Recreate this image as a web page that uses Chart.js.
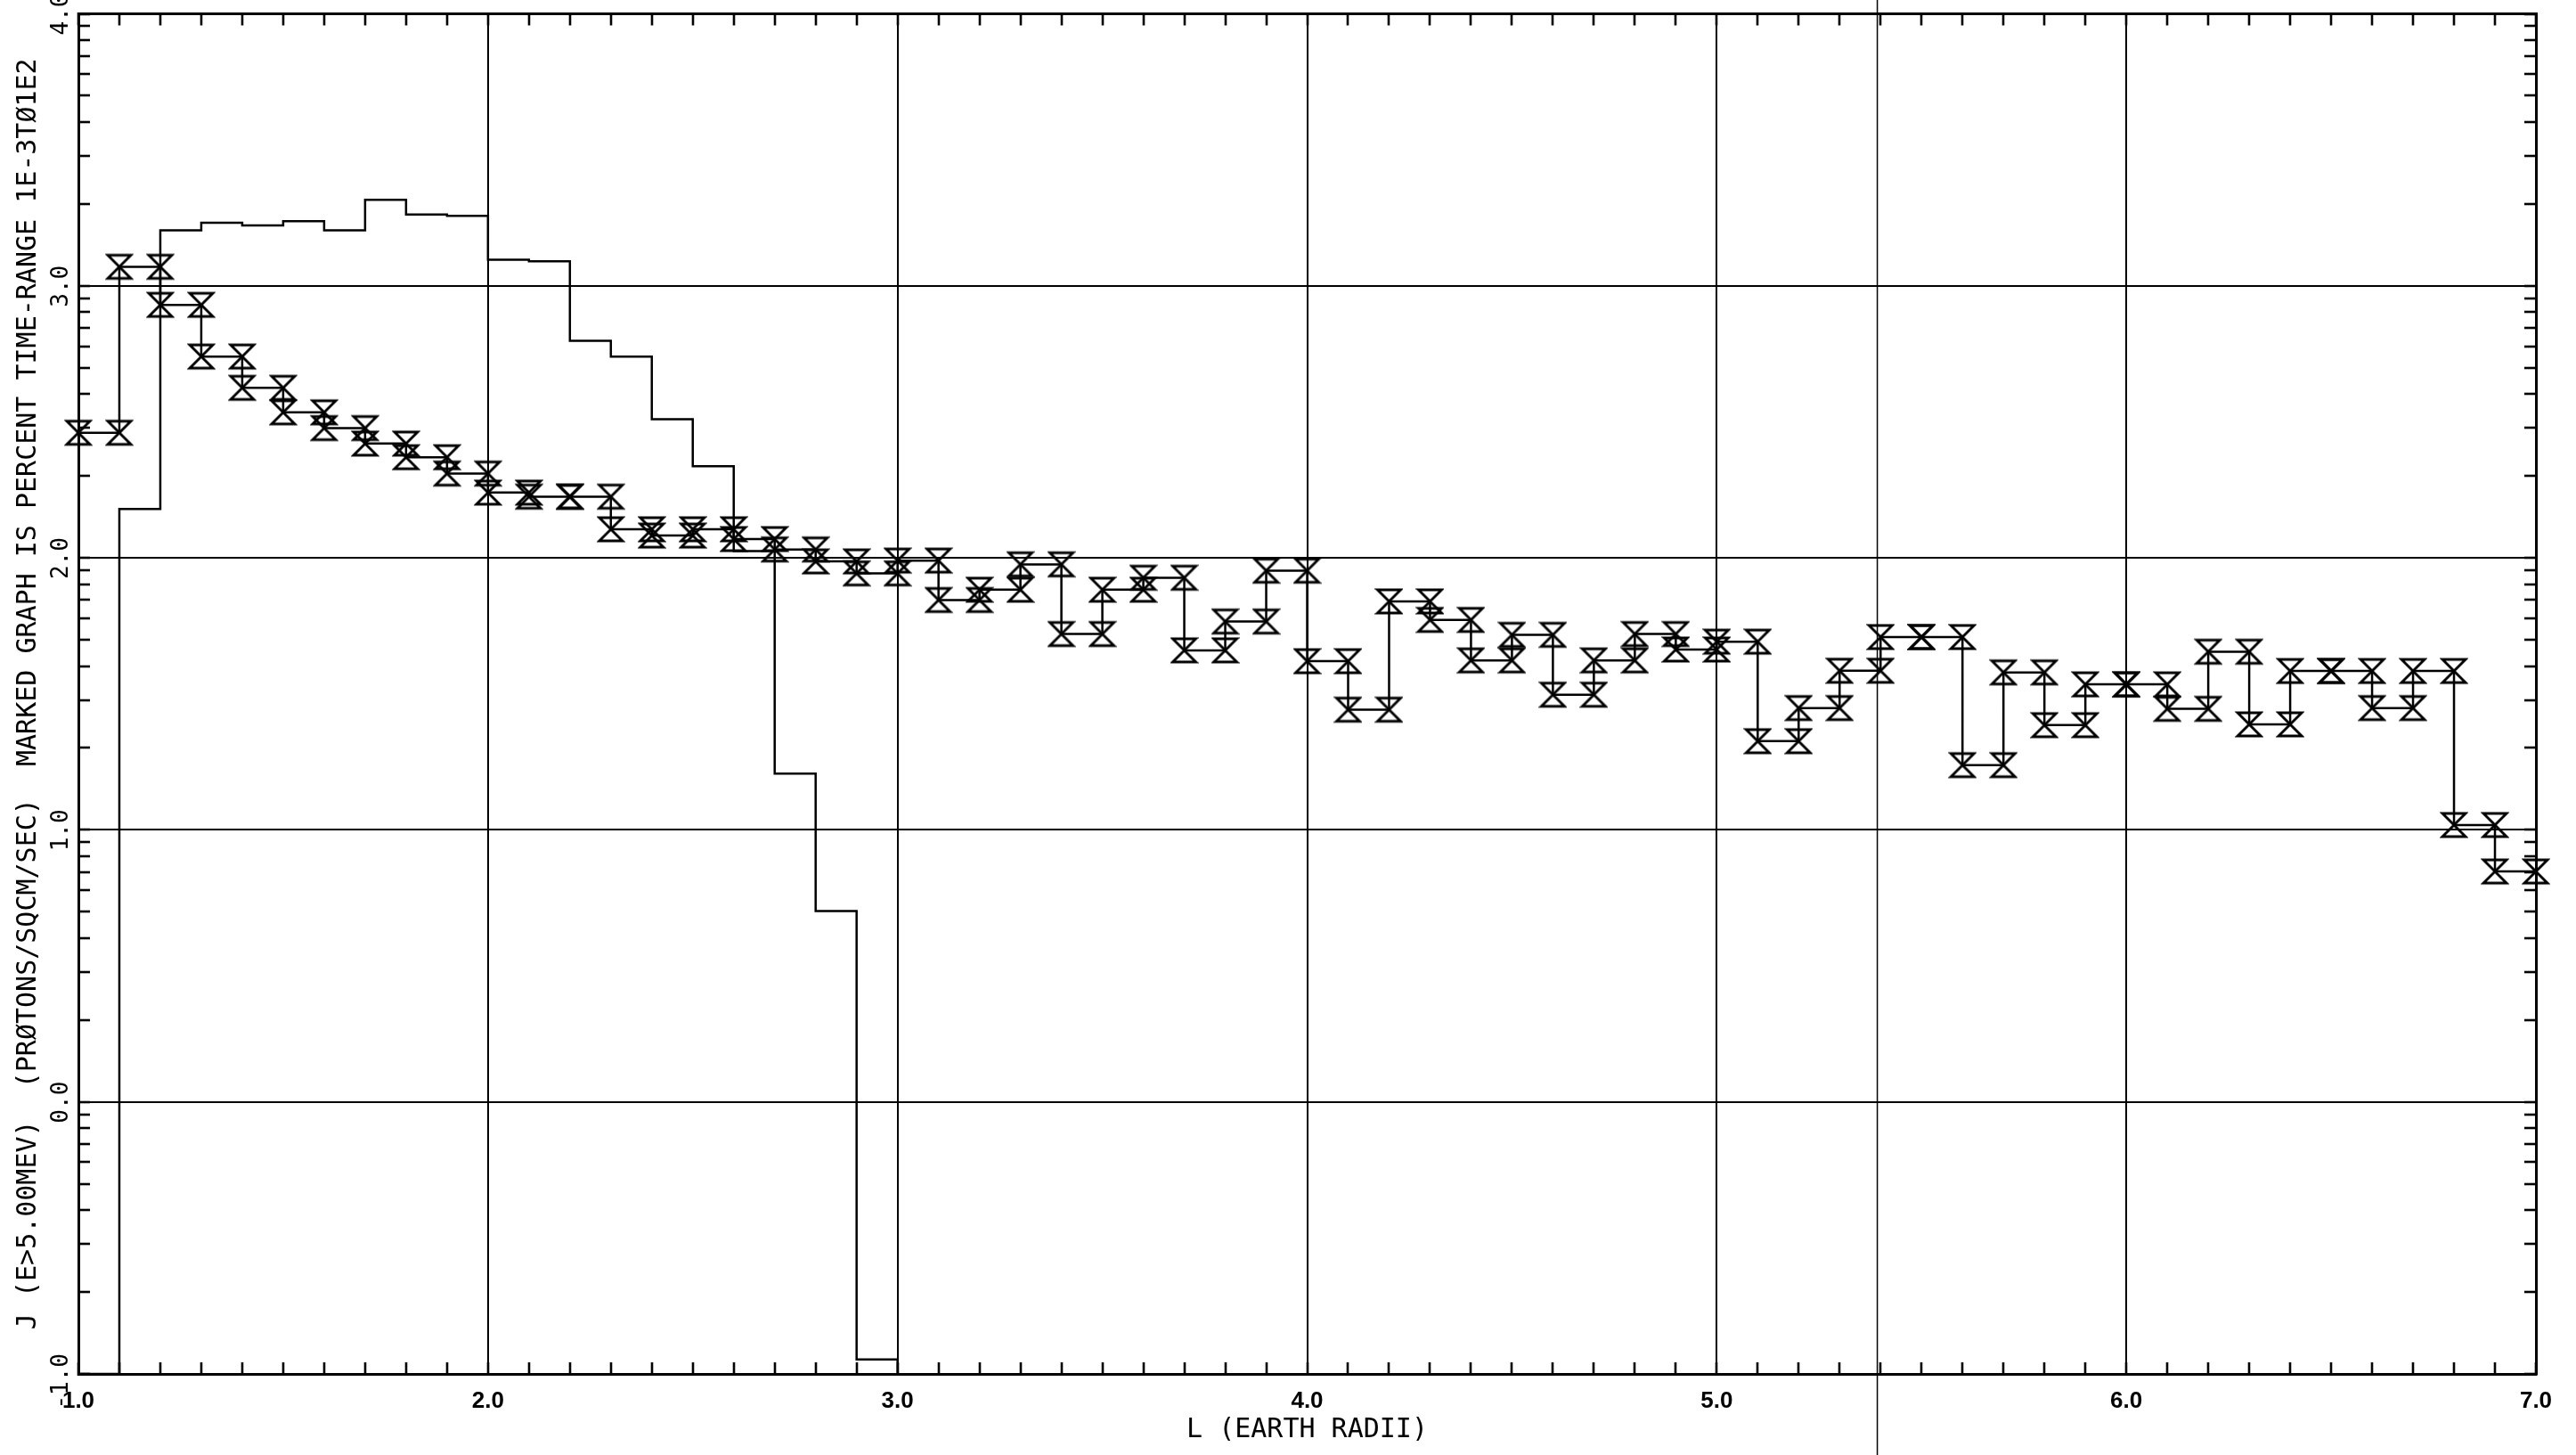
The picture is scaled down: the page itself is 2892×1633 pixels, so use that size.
<!DOCTYPE html>
<html>
<head>
<meta charset="utf-8">
<script src="https://cdn.jsdelivr.net/npm/chart.js@4/dist/chart.umd.min.js"></script>
<style>
html,body{margin:0;padding:0;background:#fff;overflow:hidden}
canvas{display:block}
</style>
</head>
<body>
<canvas id="c" width="2892" height="1633"></canvas>
<script>
// ---- data ----
const binStarts = [1.0,1.1,1.2,1.3,1.4,1.5,1.6,1.7,1.8,1.9,
                   2.0,2.1,2.2,2.3,2.4,2.5,2.6,2.7,2.8,2.9,
                   3.0,3.1,3.2,3.3,3.4,3.5,3.6,3.7,3.8,3.9,
                   4.0,4.1,4.2,4.3,4.4,4.5,4.6,4.7,4.8,4.9,
                   5.0,5.1,5.2,5.3,5.4,5.5,5.6,5.7,5.8,5.9,
                   6.0,6.1,6.2,6.3,6.4,6.5,6.6,6.7,6.8,6.9];
const binWidth = 0.1;
// marked graph: log10 flux per 0.1-L bin
const markedValues = [2.46,3.07,2.93,2.74,2.625,2.535,2.477,2.42,2.37,2.31,
                      2.24,2.225,2.225,2.105,2.082,2.105,2.069,2.031,1.987,1.943,
                      1.99,1.845,1.883,1.976,1.72,1.883,1.927,1.66,1.766,1.953,
                      1.62,1.442,1.84,1.772,1.623,1.717,1.497,1.623,1.72,1.663,
                      1.692,1.326,1.448,1.585,1.709,1.709,1.238,1.579,1.385,1.535,
                      1.535,1.445,1.655,1.388,1.584,1.584,1.448,1.584,1.018,0.847];
// unmarked graph: percent time-range (log10), step histogram, closes at the floor
const unmarkedL      = [1.0,1.1,1.2,1.3,1.4,1.5,1.6,1.7,1.8,1.9,2.0,2.1,2.2,2.3,2.4,2.5,2.6,2.7,2.8,2.9,3.0];
const unmarkedValues = [-1.0,2.18,3.204,3.232,3.222,3.238,3.204,3.316,3.262,3.257,3.096,3.09,2.798,2.74,2.51,2.337,2.025,1.207,0.702,-0.947,-1.0];

// ---- axes ----
const xMajorTicks = [1,2,3,4,5,6,7];
const xTickLabels = ['1.0','2.0','3.0','4.0','5.0','6.0','7.0'];
const yMajorTicks = [-1,0,1,2,3,4];
const yTickLabels = ['-1.0','0.0','1.0','2.0','3.0','4.0'];
const xTitle = 'L (EARTH RADII)';
const yTitle = 'J (E>5.00MEV)  (PRØTONS/SQCM/SEC)  MARKED GRAPH IS PERCENT TIME-RANGE 1E-3TØ1E2';
const creaseL = 5.392;

// minor ticks: every 0.1 on x, log-decade subdivisions on y
const xTickValues = [];
for (let k = 10; k <= 70; k++) xTickValues.push(k / 10);
const yTickValues = [];
for (let n = -1; n <= 3; n++) {
  yTickValues.push(n);
  for (let k = 2; k <= 9; k++) yTickValues.push(n + Math.log10(k));
}
yTickValues.push(4);

// ---- hourglass marker ----
const hourglass = (() => {
  const c = document.createElement('canvas');
  c.width = 32; c.height = 32;
  const g = c.getContext('2d');
  g.strokeStyle = '#000'; g.lineWidth = 3; g.lineJoin = 'miter';
  g.beginPath();
  g.moveTo(3, 3); g.lineTo(29, 3); g.lineTo(16, 16); g.closePath();
  g.moveTo(3, 29); g.lineTo(29, 29); g.lineTo(16, 16); g.closePath();
  g.stroke();
  return c;
})();

const markedPoints = [];
binStarts.forEach((L, i) => {
  markedPoints.push({x: L, y: markedValues[i]});
  markedPoints.push({x: Math.round((L + binWidth) * 10) / 10, y: markedValues[i]});
});
const unmarkedPoints = unmarkedL.map((L, i) => ({x: L, y: unmarkedValues[i]}));

const BLACK = '#000';
const TRANSPARENT = 'rgba(0,0,0,0)';
const gridMajorOnly = {
  color: c => (c.tick && c.tick.major) ? BLACK : TRANSPARENT,
  lineWidth: 2,
  drawOnChartArea: true,
  drawTicks: true,
  tickLength: -13,
  tickColor: BLACK,
  tickWidth: 2.6
};
const gridTicksOnly = Object.assign({}, gridMajorOnly, {drawOnChartArea: false});
const borderOpt = {display: true, color: BLACK, width: 3};

function setXTicks(s) { s.ticks = xTickValues.map(v => ({value: v, major: xMajorTicks.includes(v)})); }
function setYTicks(s) { s.ticks = yTickValues.map(v => ({value: v, major: yMajorTicks.includes(v)})); }
function noPad(s) { s.paddingTop = 0; s.paddingBottom = 0; s.paddingLeft = 0; s.paddingRight = 0; }

const creasePlugin = {
  id: 'crease',
  afterDatasetsDraw(chart) {
    const x = chart.scales.x.getPixelForValue(creaseL);
    const ctx = chart.ctx;
    ctx.save();
    ctx.strokeStyle = '#000';
    ctx.lineWidth = 1.5;
    ctx.beginPath();
    ctx.moveTo(x, 0);
    ctx.lineTo(x, chart.height);
    ctx.stroke();
    ctx.restore();
  }
};

new Chart(document.getElementById('c'), {
  type: 'line',
  data: {
    datasets: [
      {
        label: 'unmarked',
        data: unmarkedPoints,
        stepped: 'before',
        borderColor: BLACK,
        borderWidth: 2.5,
        pointRadius: 0,
        fill: false,
        clip: false
      },
      {
        label: 'marked',
        data: markedPoints,
        borderColor: BLACK,
        borderWidth: 2.5,
        pointStyle: hourglass,
        pointRadius: 13,
        fill: false,
        clip: false
      }
    ]
  },
  options: {
    responsive: false,
    animation: false,
    devicePixelRatio: 1,
    events: [],
    layout: {padding: 0},
    plugins: {legend: {display: false}, tooltip: {enabled: false}},
    scales: {
      x: {
        type: 'linear', position: 'bottom', min: 1, max: 7,
        afterBuildTicks: setXTicks,
        afterFit: s => { s.height = 91; noPad(s); },
        ticks: {
          autoSkip: false, minRotation: 0, maxRotation: 0, padding: 28, color: BLACK,
          font: {family: 'Liberation Sans', size: 26, weight: 'bold'},
          callback: v => { const i = xMajorTicks.indexOf(v); return i >= 0 ? xTickLabels[i] : ''; }
        },
        grid: gridMajorOnly,
        border: borderOpt,
        title: {display: true, text: xTitle, color: BLACK,
                font: {family: 'DejaVu Sans Mono', size: 30}, padding: {top: 0, bottom: 10}}
      },
      x2: {
        type: 'linear', position: 'top', min: 1, max: 7,
        afterBuildTicks: setXTicks,
        afterFit: s => { s.height = 14; noPad(s); },
        ticks: {display: false, autoSkip: false},
        grid: gridTicksOnly,
        border: borderOpt
      },
      y: {
        type: 'linear', position: 'left', min: -1, max: 4,
        afterBuildTicks: setYTicks,
        afterFit: s => { s.width = 88; noPad(s); },
        ticks: {
          autoSkip: false, minRotation: 90, maxRotation: 90, padding: 32, labelOffset: -23, color: BLACK,
          font: {family: 'DejaVu Sans Mono', size: 26},
          callback: v => { const i = yMajorTicks.indexOf(v); return i >= 0 ? yTickLabels[i] : ''; }
        },
        grid: gridMajorOnly,
        border: borderOpt,
        title: {display: true, text: yTitle, color: BLACK,
                font: {family: 'DejaVu Sans Mono', size: 30}, padding: {top: 14, bottom: 0}}
      },
      y2: {
        type: 'linear', position: 'right', min: -1, max: 4,
        afterBuildTicks: setYTicks,
        afterFit: s => { s.width = 45; noPad(s); },
        ticks: {display: false, autoSkip: false},
        grid: gridTicksOnly,
        border: borderOpt
      }
    }
  },
  plugins: [creasePlugin]
});
</script>
</body>
</html>
